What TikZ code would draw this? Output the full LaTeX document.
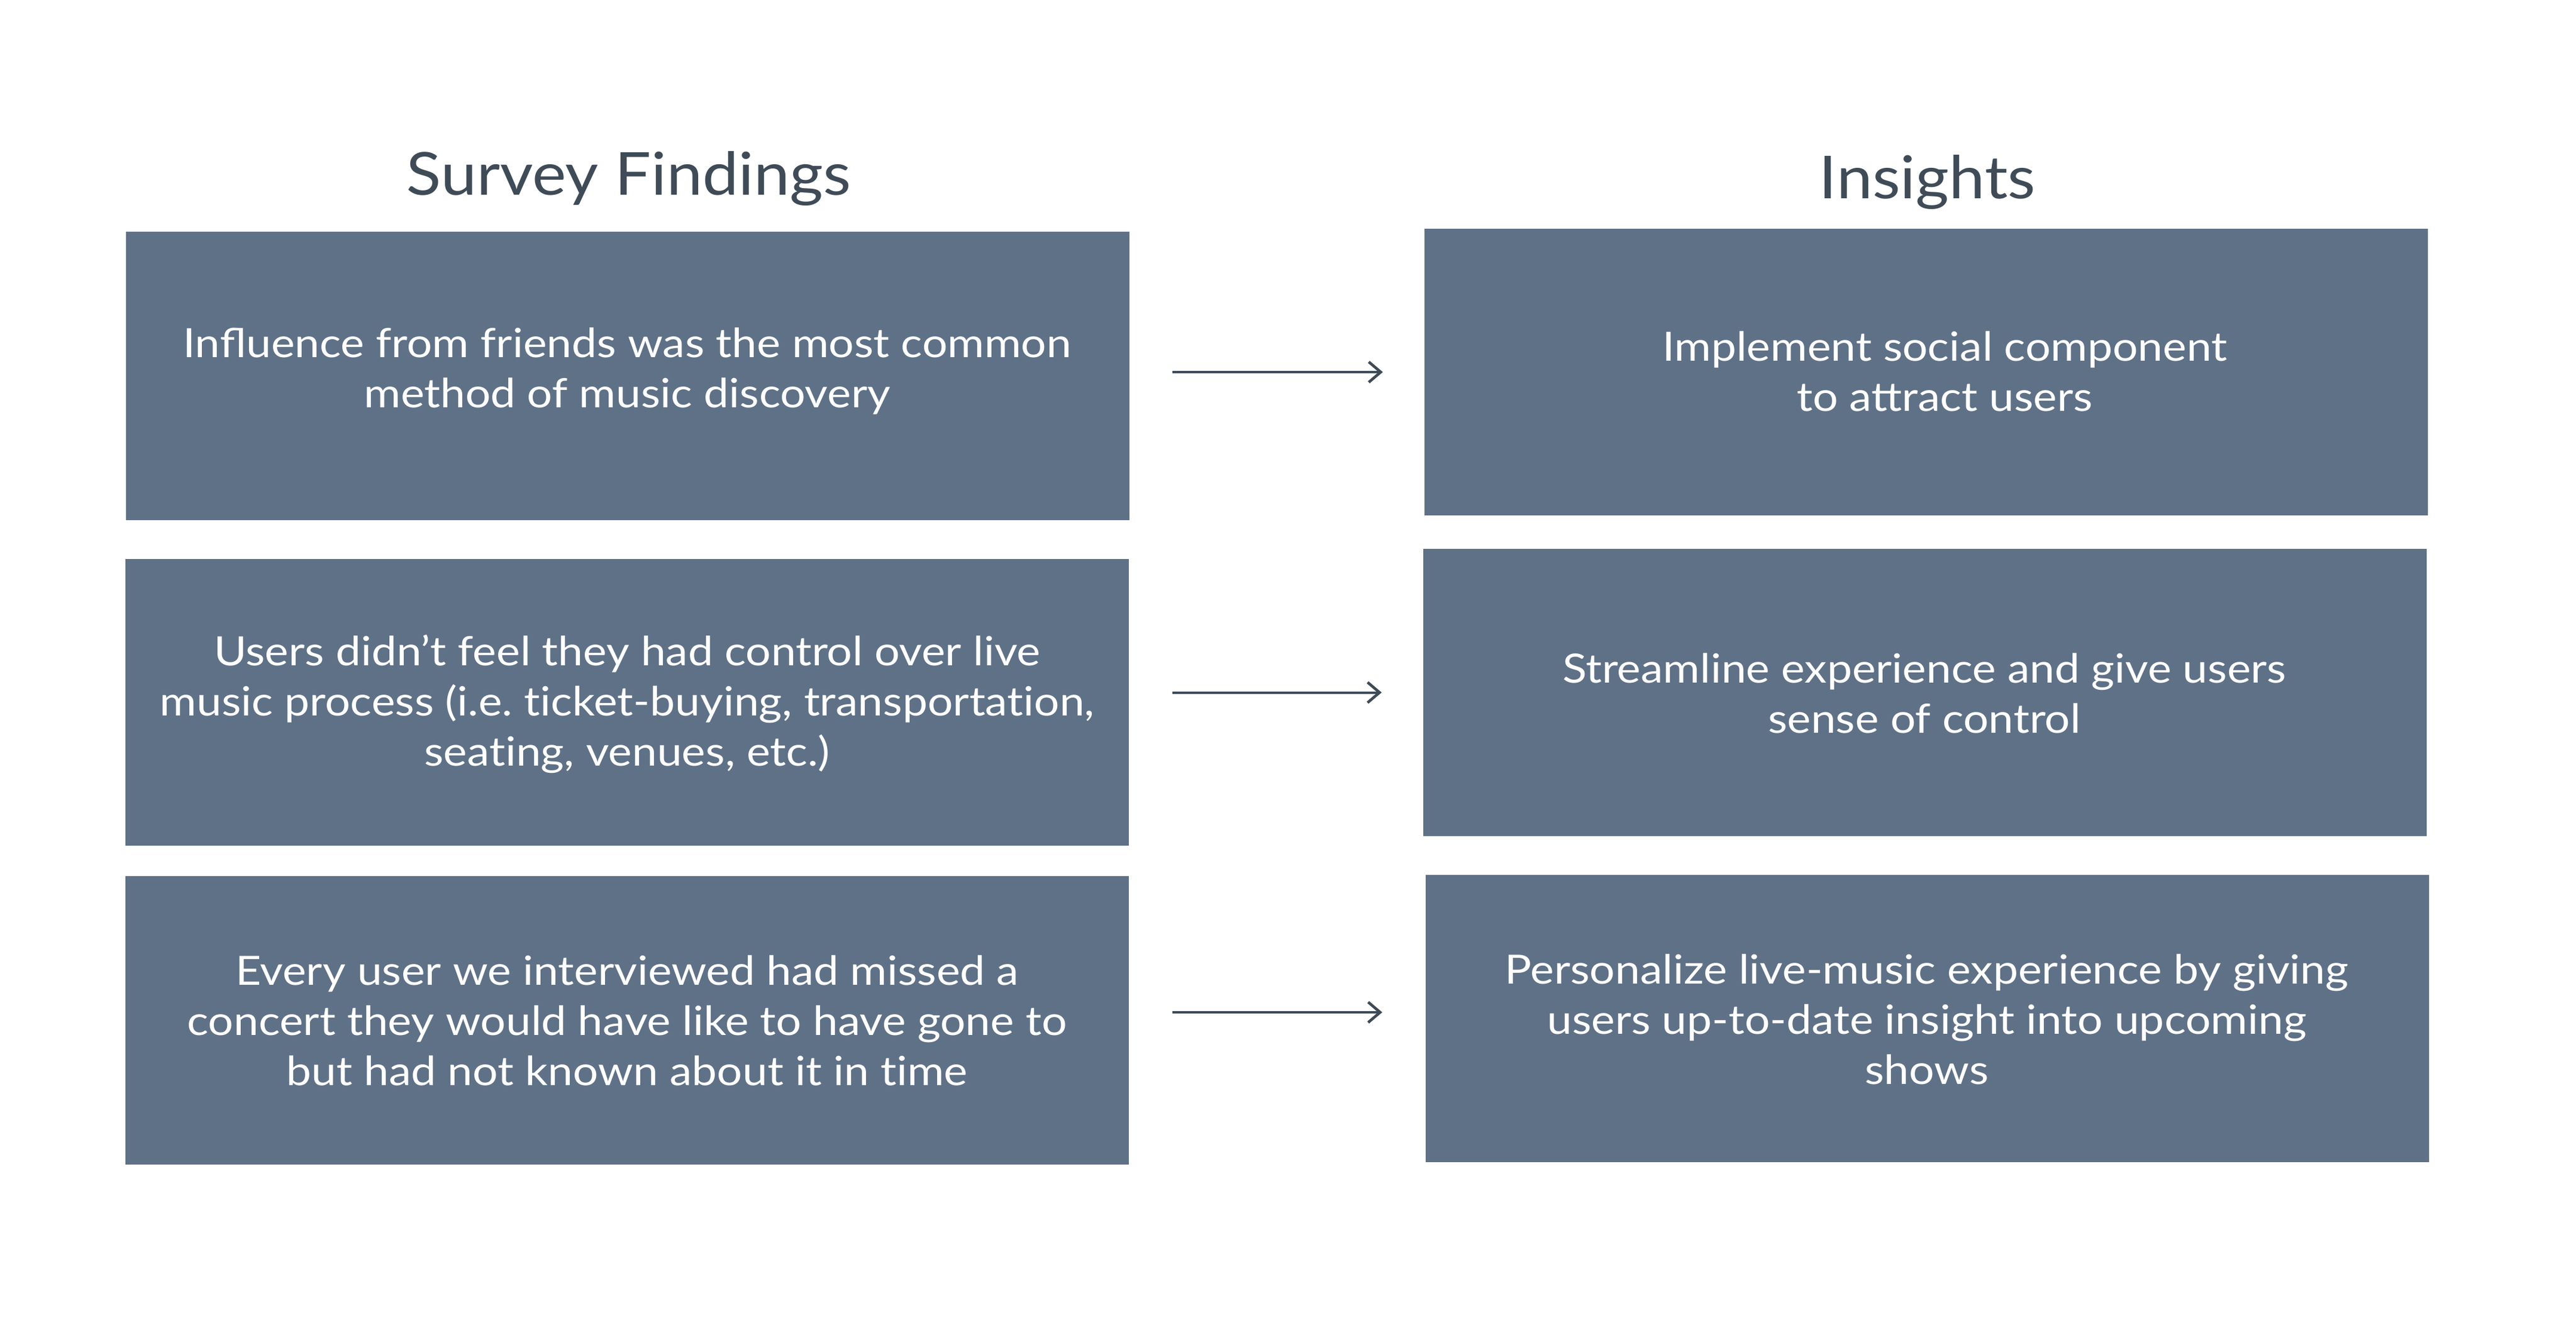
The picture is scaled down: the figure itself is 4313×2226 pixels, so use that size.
\documentclass[tikz,border=0pt]{standalone}
\usepackage{fontspec}
\setmainfont{Lato}[FakeStretch=1.11]
\newfontfamily\headfont{Lato}[FakeStretch=1.085]
\newcommand\tiNL{t\kern0pt i}
\frenchspacing
\usetikzlibrary{arrows.meta,calc}
\definecolor{boxfill}{HTML}{5F7186}
\definecolor{titlecol}{HTML}{3F4B57}
\definecolor{arrcol}{HTML}{3E4A56}
\begin{document}
\begin{tikzpicture}[x=0.01cm,y=-0.01cm,
  cardbox/.style={rectangle, fill=boxfill, draw=none, inner sep=0pt, minimum width=16.79cm, minimum height=4.81cm},
  cardtext/.style={anchor=north, inner sep=0pt, align=center, text=white, font=\fontsize{19.2pt}{23.9pt}\selectfont\frenchspacing},
  headtext/.style={anchor=base, inner sep=0pt, text=titlecol, font=\headfont\fontsize{28.2pt}{34pt}\selectfont},
  linkarrow/.style={draw=arrcol, line width=1.14pt, -{Straight Barb[length=5.7pt,width=9.7pt,line width=1.3pt]}, shorten <=0.72cm, shorten >=0.69cm}]
\fill[white] (0,0) rectangle (4313,2226);
\useasboundingbox (0,0) rectangle (4313,2226);

% titles
\node[headtext] (hL) at (1053,326) {Survey Findings};
\node[headtext] (hR) at (3227,332) {Insights};

% boxes
\node[cardbox, minimum height=4.83cm] (L1) at (1050.5,629.5) {};
\node[cardbox, minimum height=4.80cm] (L2) at (1050,1176) {};
\node[cardbox, minimum height=4.83cm] (L3) at (1050,1708.5) {};
\node[cardbox, minimum height=4.80cm] (R1) at (3225,623) {};
\node[cardbox, minimum height=4.81cm] (R2) at (3223,1159.5) {};
\node[cardbox, minimum height=4.81cm] (R3) at (3227,1705.5) {};

% texts
\node[cardtext] (tL1) at (1050,539.2) {\strut Influence from friends was the most common\\\strut method of music discovery};
\node[cardtext] (tL2) at (1050,1055.2) {\strut Users didn’t feel they had control over live\\\strut music process (i.e. \tiNL cket-buying, transporta\tiNL on,\\\strut sea\tiNL ng, venues, etc.)};
\node[cardtext] (tL3) at (1050,1590.2) {\strut Every user we interviewed had missed a\\\strut concert they would have like to have gone to\\\strut but had not known about it in \tiNL me};
\node[cardtext] (tR1) at (3256,545.2) {\strut Implement social component\\\strut to attract users};
\node[cardtext] (tR2) at (3222,1084.2) {\strut Streamline experience and give users\\\strut sense of control};
\node[cardtext] (tR3) at (3226,1588.2) {\strut Personalize live-music experience by giving\\\strut users up-to-date insight into upcoming\\\strut shows};

% arrows
\draw[linkarrow] (L1.east |- R1.west) -- (R1.west);
\draw[linkarrow] (L2.east |- R2.west) -- (R2.west);
\coordinate (a3s) at ($(L3.east |- R3.west)+(0,-10.5)$);
\coordinate (a3e) at ($(R3.west)+(0,-10.5)$);
\draw[linkarrow, shorten >=0.72cm] (a3s) -- (a3e);
\end{tikzpicture}
\end{document}
